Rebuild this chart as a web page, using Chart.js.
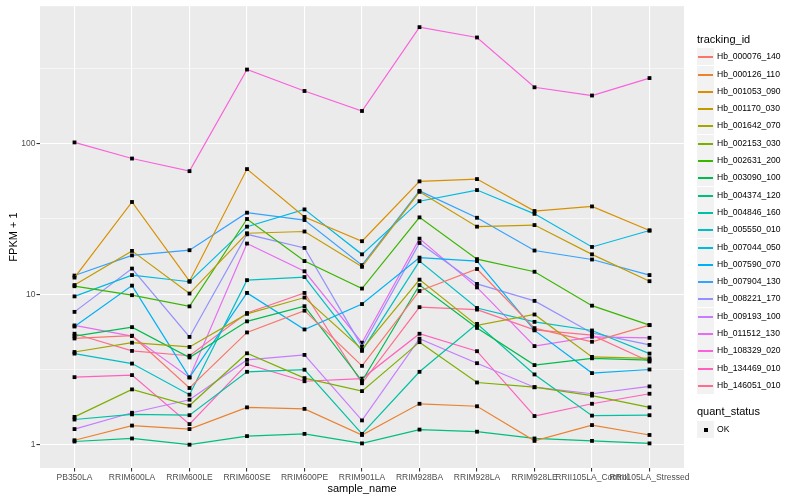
<!DOCTYPE html>
<html>
<head>
<meta charset="UTF-8">
<title>FPKM lines</title>
<script src="https://cdn.jsdelivr.net/npm/chart.js@4"></script>
<style>
  body { margin:0; background:#fff; font-family:'Liberation Sans', Arial, sans-serif; }
  #wrap { position:relative; width:800px; height:500px; }
  #chart { position:absolute; left:0; top:0; }
  .lg-title { position:absolute; left:697px; font-size:11px; color:#000; white-space:nowrap; }
  .lg-row { position:absolute; left:697px; height:17px; }
  .lg-key { position:absolute; left:0; top:0; width:17px; height:17px; background:#f2f2f2; }
  .lg-line { position:absolute; left:1px; width:15px; top:8px; height:1.6px; }
  .lg-dot { position:absolute; left:7px; top:7px; width:4px; height:4px; background:#000; }
  .lg-text { position:absolute; left:20px; top:0; line-height:17px; font-size:8.6px; color:#000; white-space:nowrap; }
</style>
</head>
<body>
<div id="wrap">
  <canvas id="chart" width="800" height="500"></canvas>
  <div id="legend"></div>
</div>
<script>
// categories (x axis)
const categories = ["PB350LA","RRIM600LA","RRIM600LE","RRIM600SE","RRIM600PE","RRIM901LA",
  "RRIM928BA","RRIM928LA","RRIM928LE","RRII105LA_Control","RRII105LA_Stressed"];

// FPKM + 1, one array per tracking_id
const hb_000076_140 = [5.08, 5.3, 2.38, 5.57, 7.77, 3.34, 10.5, 14.7, 5.95, 4.83, 6.23];
const hb_000126_110 = [1.07, 1.34, 1.27, 1.77, 1.73, 1.16, 1.87, 1.80, 1.06, 1.35, 1.16];
const hb_001053_090 = [12.9, 41, 12.2, 67.8, 32.6, 22.5, 56.2, 58.2, 35.7, 38.3, 26.5];
const hb_001170_030 = [11.5, 19.4, 10.1, 25.4, 26.1, 15.2, 47.9, 28.1, 28.8, 18.4, 12.2];
const hb_001642_070 = [4.13, 4.76, 4.46, 7.4, 9.5, 4.3, 12.5, 6.2, 7.33, 3.83, 3.75];
const hb_002153_030 = [1.53, 2.33, 1.82, 4.05, 2.77, 2.27, 4.8, 2.59, 2.41, 2.12, 1.77];
const hb_002631_200 = [11.3, 9.85, 8.3, 31.6, 16.6, 10.9, 32.4, 17.1, 14.1, 8.39, 6.23];
const hb_003090_100 = [5.27, 6.04, 3.8, 6.6, 8.32, 2.65, 11.5, 5.97, 3.38, 3.75, 3.65];
const hb_004374_120 = [1.05, 1.10, 1.00, 1.14, 1.18, 1.02, 1.26, 1.22, 1.10, 1.06, 1.02];
const hb_004846_160 = [1.47, 1.59, 1.57, 3.05, 3.15, 1.18, 3.05, 6.35, 2.93, 1.56, 1.57];
const hb_005550_010 = [4.03, 3.46, 2.15, 12.4, 13.0, 4.2, 16.6, 8.1, 6.55, 5.74, 4.03];
const hb_007044_050 = [9.67, 13.4, 12.1, 28.1, 36.6, 18.4, 41.5, 49.2, 34.2, 20.6, 26.5];
const hb_007590_070 = [6.1, 11.4, 2.8, 10.2, 5.83, 8.6, 17.5, 16.6, 5.75, 2.99, 3.16];
const hb_007904_130 = [13.3, 18.1, 19.6, 34.8, 31.1, 15.6, 48.6, 32.2, 19.5, 17.0, 13.4];
const hb_008221_170 = [7.63, 14.8, 5.2, 25.0, 20.3, 4.48, 21.9, 11.7, 9.03, 5.53, 4.6];
const hb_009193_100 = [1.27, 1.63, 1.99, 3.66, 3.95, 1.45, 5.06, 3.48, 2.41, 2.18, 2.44];
const hb_011512_130 = [6.2, 5.27, 2.8, 21.7, 14.2, 4.76, 23.4, 11.1, 4.52, 5.21, 5.13];
const hb_108329_020 = [102, 79.7, 65.7, 311, 224, 165, 595, 508, 237, 209, 273];
const hb_134469_010 = [2.81, 2.9, 1.37, 3.43, 2.64, 2.75, 5.46, 4.18, 1.55, 1.87, 2.18];
const hb_146051_010 = [5.46, 4.2, 3.9, 7.5, 10.2, 2.56, 8.2, 7.9, 5.8, 5.34, 3.57];

const trackingIds = ["Hb_000076_140","Hb_000126_110","Hb_001053_090","Hb_001170_030","Hb_001642_070",
  "Hb_002153_030","Hb_002631_200","Hb_003090_100","Hb_004374_120","Hb_004846_160","Hb_005550_010",
  "Hb_007044_050","Hb_007590_070","Hb_007904_130","Hb_008221_170","Hb_009193_100","Hb_011512_130",
  "Hb_108329_020","Hb_134469_010","Hb_146051_010"];
const seriesValues = [hb_000076_140, hb_000126_110, hb_001053_090, hb_001170_030, hb_001642_070,
  hb_002153_030, hb_002631_200, hb_003090_100, hb_004374_120, hb_004846_160, hb_005550_010,
  hb_007044_050, hb_007590_070, hb_007904_130, hb_008221_170, hb_009193_100, hb_011512_130,
  hb_108329_020, hb_134469_010, hb_146051_010];
const colors = ["#F8766D","#EA8331","#D89000","#C09B00","#A3A500","#7CAE00","#39B600","#00BB4E",
  "#00BF7D","#00C1A3","#00BFC4","#00BAE0","#00B0F6","#35A2FF","#9590FF","#C77CFF","#E76BF3",
  "#FA62DB","#FF62BC","#FF6C91"];

// y axis breaks
const yTickValues = [1, 10, 100];
const yTickLabels = ["1", "10", "100"];
const yMinorValues = [3.1623, 31.623, 316.23];
const shapeLevels = ["OK"];

const datasets = seriesValues.map((vals, i) => ({
  label: trackingIds[i],
  data: vals.map((v, j) => ({x: j, y: v})),
  borderColor: colors[i],
  borderWidth: 1.2,
  pointStyle: 'rect',
  pointRadius: 2.7,
  pointBackgroundColor: '#000',
  pointBorderWidth: 0,
  tension: 0
}));

const panelBg = {
  id: 'panelBg',
  beforeDraw(chart) {
    const a = chart.chartArea, c = chart.ctx;
    c.save();
    c.fillStyle = '#ebebeb';
    c.fillRect(a.left, a.top, a.right - a.left, a.bottom - a.top);
    c.restore();
  }
};

const isMajor = v => yTickValues.some(t => Math.abs(t - v) < 1e-6);

new Chart(document.getElementById('chart'), {
  type: 'line',
  data: { datasets },
  plugins: [panelBg],
  options: {
    responsive: false,
    animation: false,
    devicePixelRatio: 1,
    layout: { padding: { left: 0, right: 116, top: 5, bottom: 0 } },
    plugins: { legend: { display: false }, tooltip: { enabled: false } },
    scales: {
      x: {
        type: 'linear',
        min: -0.6, max: 10.6,
        afterBuildTicks: s => { s.ticks = categories.map((c, i) => ({ value: i })); },
        afterFit: s => { s.height = 32; },
        ticks: {
          autoSkip: false, maxRotation: 0, minRotation: 0, padding: 1,
          color: '#4d4d4d', font: { family: 'Liberation Sans', size: 8.5 },
          callback: v => categories[v]
        },
        grid: { color: '#ffffff', lineWidth: 1.1, tickColor: '#333333', tickLength: 3.5 },
        border: { display: false },
        title: { display: true, text: 'sample_name', color: '#000', padding: { top: 0, bottom: 4 },
          font: { family: 'Liberation Sans', size: 11 } }
      },
      y: {
        type: 'logarithmic',
        min: 0.735, max: 821,
        afterBuildTicks: s => {
          s.ticks = yTickValues.concat(yMinorValues).sort((a, b) => a - b).map(v => ({ value: v }));
        },
        afterFit: s => { s.width = 40; },
        ticks: {
          autoSkip: false, padding: 1, color: '#4d4d4d',
          font: { family: 'Liberation Sans', size: 8.5 },
          callback: v => { const k = yTickValues.findIndex(t => Math.abs(t - v) < 1e-6); return k >= 0 ? yTickLabels[k] : ''; }
        },
        grid: {
          color: '#ffffff',
          lineWidth: c => isMajor(c.tick.value) ? 1.1 : 0.55,
          tickColor: c => isMajor(c.tick.value) ? '#333333' : 'rgba(0,0,0,0)',
          tickLength: 3.5
        },
        border: { display: false },
        title: { display: true, text: 'FPKM + 1', color: '#000', padding: { top: 7, bottom: 0 },
          font: { family: 'Liberation Sans', size: 11 } }
      }
    }
  }
});

// legend (ggplot style, right side)
const legend = document.getElementById('legend');
function addTitle(text, cy) {
  const d = document.createElement('div');
  d.className = 'lg-title';
  d.style.top = Math.round(cy - 7) + 'px';
  d.textContent = text;
  legend.appendChild(d);
}
function addRow(text, cy, color) {
  const row = document.createElement('div');
  row.className = 'lg-row';
  row.style.top = Math.round(cy - 8.5) + 'px';
  const key = document.createElement('div');
  key.className = 'lg-key';
  const mark = document.createElement('div');
  if (color) { mark.className = 'lg-line'; mark.style.background = color; }
  else { mark.className = 'lg-dot'; }
  key.appendChild(mark);
  const t = document.createElement('div');
  t.className = 'lg-text';
  t.textContent = text;
  row.appendChild(key); row.appendChild(t);
  legend.appendChild(row);
}
addTitle('tracking_id', 40);
trackingIds.forEach((id, i) => addRow(id, 56.7 + 17.3 * i, colors[i]));
addTitle('quant_status', 412);
shapeLevels.forEach((s, i) => addRow(s, 429 + 17.3 * i, null));
</script>
</body>
</html>
